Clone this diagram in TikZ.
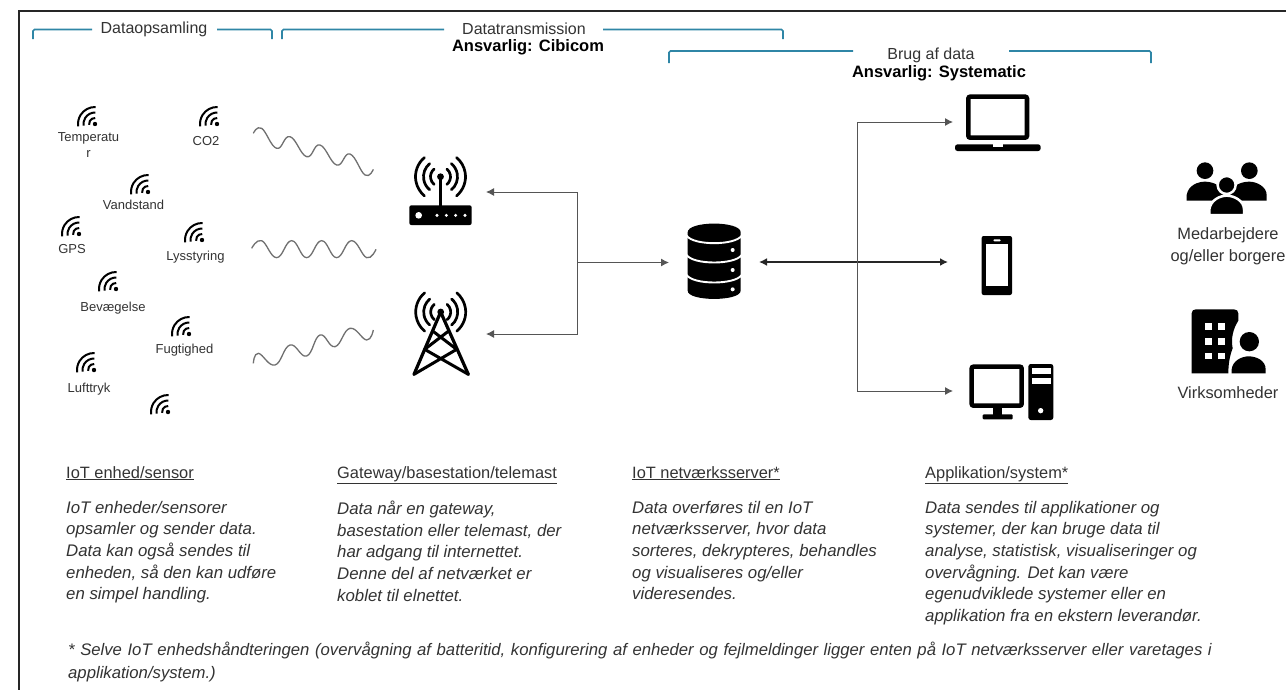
\documentclass[tikz,border=0pt]{standalone}
\usepackage{fontspec}
\setmainfont{Liberation Sans}
\usetikzlibrary{arrows.meta}
\definecolor{teal1}{HTML}{2F86A6}
\definecolor{ink}{HTML}{333333}
\definecolor{wavec}{HTML}{707070}
\definecolor{linec}{HTML}{555555}
\tikzset{
  brk/.style={draw=teal1,line width=1.7pt,rounded corners=1.5pt},
  sens/.style={font=\fontsize{13}{15.5}\selectfont,text=ink,inner sep=0pt,align=center},
  head/.style={font=\fontsize{16}{18}\selectfont,text=ink,inner sep=0pt,align=center},
  bhead/.style={font=\fontsize{16.5}{18}\selectfont\bfseries,text=black,inner sep=0pt,align=center},
  colhead/.style={font=\fontsize{16.4}{18}\selectfont,text=ink,inner sep=0pt,anchor=base west},
  colbody/.style={font=\fontsize{16.8}{21.6}\selectfont\itshape,text=ink,inner sep=0pt,anchor=north west,align=left},
  wave/.style={draw=wavec,line width=1.3pt},
  conn/.style={draw=linec,line width=1pt,-{Latex[length=8pt,width=8pt]}},
  connb/.style={draw=black!85,line width=1.6pt,{Latex[length=8pt,width=8pt]}-{Latex[length=8pt,width=8pt]}},
  wifi/.pic={
    \fill (0,0) circle (2.2);
    \foreach \r in {6,11.5,17}{
      \draw[line width=2pt] (88:\r) arc[start angle=88,end angle=188,radius=\r];
    }
  },
  radio/.pic={
    \foreach \r in {10,17,25}{
      \draw[line width=2.7pt,line cap=round] (-50:\r) arc[start angle=-50,end angle=50,radius=\r];
      \draw[line width=2.7pt,line cap=round] (130:\r) arc[start angle=130,end angle=230,radius=\r];
    }
    \fill (0,0) circle (3.4);
  }
}
\begin{document}
\begin{tikzpicture}[x=1pt,y=1pt,yscale=-1]
\useasboundingbox (0,0) rectangle (1286,689);
\fill[white] (0,0) rectangle (1286,689);
% frame
\draw[line width=2.4pt,draw=black!85] (1290,11) -- (19,11) -- (19,695);

% brackets
\draw[brk] (33,39) -- (33,29.5) -- (92,29.5);
\draw[brk] (217,29.5) -- (272,29.5) -- (272,39);
\draw[brk] (282,39) -- (282,29.5) -- (444,29.5);
\draw[brk] (603,29.5) -- (783,29.5) -- (783,39);
\draw[brk] (669,63) -- (669,51) -- (853,51);
\draw[brk] (1009,51) -- (1151,51) -- (1151,63);
\node[head] (tData) at (154,29) {Dataopsamling};
\node[head] (tTrans) at (524,29) {Datatransmission};
\node[bhead] (tCib) at (528,47) {Ansvarlig: Cibicom};
\node[head] (tBrug) at (931,55) {Brug af data};
\node[bhead] (tSys) at (939,73) {Ansvarlig: Systematic};

% sensors
\foreach \p in {(95,124),(217,124),(148,192),(79,234),(202,240),(116,289),(189,334),(94,370),(168,412)}{
  \pic at \p {wifi};
}
\node[sens] (s1) at (88.5,145) {Temperatu\\r};
\node[sens] (s2) at (206,141) {CO2};
\node[sens] (s3) at (133.5,204.5) {Vandstand};
\node[sens] (s4) at (72,249) {GPS};
\node[sens] (s5) at (195.5,257) {Lysstyring};
\node[sens] (s6) at (113,308) {Bevægelse};
\node[sens] (s7) at (184.5,350) {Fugtighed};
\node[sens] (s8) at (89,389) {Lufttryk};

% waves
\begin{scope}[scale=1/3]
\draw[wave] plot[smooth,tension=.75] coordinates {(760,400)(785,385)(830,445)(870,410)(920,470)(960,435)(1010,495)(1050,462)(1095,525)(1120,508)};
\end{scope}
\begin{scope}[shift={(0,210)},scale=1/3]
\draw[wave] plot[smooth,tension=.75] coordinates {(755,115)(785,92)(830,143)(875,92)(920,143)(965,92)(1010,143)(1055,92)(1100,143)(1128,118)};
\draw[wave] plot[smooth,tension=.75] coordinates {(760,460)(775,430)(825,465)(870,405)(920,438)(960,375)(1005,410)(1050,355)(1100,390)(1120,360)};
\end{scope}

% router
\pic at (440.5,176.7) {radio};
\begin{scope}[shift={(390,140)},scale=1/3]
\draw[line width=2.6pt] (151,110) -- (151,200);
\fill[black,rounded corners=2pt] (58,196) rectangle (245,255);
\fill[white] (86,226) circle (10);
\foreach \x in {141,169,197,225}{\fill[white] (\x,226) circle (5);}
\end{scope}

% tower
\pic at (440.7,312) {radio};
\begin{scope}[shift={(390,140)},scale=1/3]
\draw[line width=3.2pt,line join=round,line cap=round] (72,703) -- (152,516) -- (235,703);
\draw[line width=3pt,line cap=round] (128,573) -- (200,628) (176,573) -- (104,628)
  (104,628) -- (235,703) (200,628) -- (72,703);
\end{scope}

% database
\begin{scope}[shift={(660,200)},scale=1/3]
\fill[black] (83,97) -- (83,272) .. controls (83,305) and (242,305) .. (242,272) -- (242,97) .. controls (242,62) and (83,62) .. (83,97) -- cycle;
\foreach \y in {107,165,225}{
  \draw[white,line width=1.9pt] (80,\y) .. controls (100,{\y+30}) and (225,{\y+30}) .. (245,\y);
}
\foreach \y in {150,210,268}{\fill[white] (218,\y) circle (6);}
\end{scope}

% laptop
\begin{scope}[shift={(840,80)},scale=1/3]
\draw[line width=4.6pt,rounded corners=2pt] (385,50) rectangle (561,173);
\fill[rounded corners=2.5pt] (345,193) rectangle (602,213);
\fill[white] (458,192) rectangle (490,200);
% phone
\fill[rounded corners=2pt] (425,468) rectangle (516,645);
\fill[white] (437,492) rectangle (505,618);
\fill[white,rounded corners=1pt] (460,478) rectangle (482,484);
% pc
\draw[line width=4.6pt,rounded corners=2pt] (395,860) rectangle (545,977);
\fill (460,980) rectangle (485,1005);
\fill[rounded corners=1pt] (428,1003) rectangle (518,1018);
\fill[rounded corners=2.5pt] (565,852) rectangle (640,1020);
\fill[white] (575,865) rectangle (632,882);
\fill[white] (575,893) rectangle (632,912);
\fill[white] (602,992) circle (8);
% people
\fill (1095,272) circle (25);
\fill (1228,272) circle (25);
\fill (1040,362) -- (1040,345) .. controls (1045,315) and (1075,305) .. (1095,305) .. controls (1115,305) and (1150,315) .. (1150,345) -- (1150,362) -- cycle;
\fill (1170,362) -- (1170,345) .. controls (1175,315) and (1205,305) .. (1228,305) .. controls (1250,305) and (1280,320) .. (1280,345) -- (1280,362) -- cycle;
\filldraw[draw=white,line width=2.5pt] (1160,315) circle (27);
\filldraw[draw=white,line width=2.5pt] (1108,405) -- (1108,388) .. controls (1112,360) and (1140,347) .. (1160,347) .. controls (1182,347) and (1212,362) .. (1212,388) -- (1212,405) -- cycle;
% company
\fill (1055,880) -- (1055,700) .. controls (1055,692) and (1060,688) .. (1068,688) -- (1182,688) .. controls (1190,688) and (1195,693) .. (1195,700) -- (1195,722) .. controls (1180,745) and (1172,775) .. (1178,805) .. controls (1170,825) and (1165,850) .. (1165,880) -- cycle;
\foreach \x in {1095,1135}{\foreach \y in {730,775,818}{\fill[white] (\x,\y) rectangle ++(20,20);}}
\fill (1228,785) circle (29);
\fill (1175,880) -- (1175,868) .. controls (1178,842) and (1205,829) .. (1226,829) .. controls (1250,829) and (1277,842) .. (1277,868) -- (1277,880) -- cycle;
\end{scope}
\node[head,font=\fontsize{16.4}{21.7}\selectfont] (u1) at (1228,246) {Medarbejdere\\og/eller borgere};
\node[head,font=\fontsize{16.4}{18}\selectfont] (u2) at (1228,393) {Virksomheder};

% connectors
\coordinate (routerIn) at (486,192);
\coordinate (towerIn) at (486,334);
\coordinate (dbIn) at (669,262.5);
\coordinate (busL) at (577.5,262.5);
\coordinate (dbOut) at (759,262);
\coordinate (phoneIn) at (948,262);
\coordinate (busR) at (857,262);
\coordinate (laptopIn) at (953,122);
\coordinate (pcIn) at (953,391);
\draw[conn] (busL) -- (dbIn);
\draw[conn] (busL) -- (busL|-routerIn) -- (routerIn);
\draw[conn] (busL) -- (busL|-towerIn) -- (towerIn);
\draw[connb] (dbOut) -- (phoneIn);
\draw[conn] (busR) -- (busR|-laptopIn) -- (laptopIn);
\draw[conn] (busR) -- (busR|-pcIn) -- (pcIn);

% columns
\node[colhead] (h1) at (66,478) {\underline{IoT enhed/sensor}};
\node[colhead] (h2) at (337,478) {\underline{Gateway/basestation/telemast}};
\node[colhead] (h3) at (632,478) {\underline{IoT netværksserver*}};
\node[colhead] (h4) at (925,478) {\underline{Applikation/system*}};
\node[colbody] (b1) at (66,501) {IoT enheder/sensorer\\opsamler og sender data.\\Data kan også sendes til\\enheden, så den kan udføre\\en simpel handling.};
\node[colbody] (b2) at (337,501) {Data når en gateway,\\basestation eller telemast, der\\har adgang til internettet.\\Denne del af netværket er\\koblet til elnettet.};
\node[colbody] (b3) at (632,501) {Data overføres til en IoT\\netværksserver, hvor data\\sorteres, dekrypteres, behandles\\og visualiseres og/eller\\videresendes.};
\node[colbody] (b4) at (925,501) {Data sendes til applikationer og\\systemer, der kan bruge data til\\analyse, statistisk, visualiseringer og\\overvågning. Det kan være\\egenudviklede systemer eller en\\applikation fra en ekstern leverandør.};
\node[colbody,text width=1150pt,font=\fontsize{16.7}{23}\selectfont\itshape] (fn) at (68,642) {\hbox to 1145pt{* Selve IoT enhedshåndteringen (overvågning af batteritid, konfigurering af enheder og fejlmeldinger ligger enten på IoT netværksserver eller varetages i}\\applikation/system.)};
\end{tikzpicture}
\end{document}
